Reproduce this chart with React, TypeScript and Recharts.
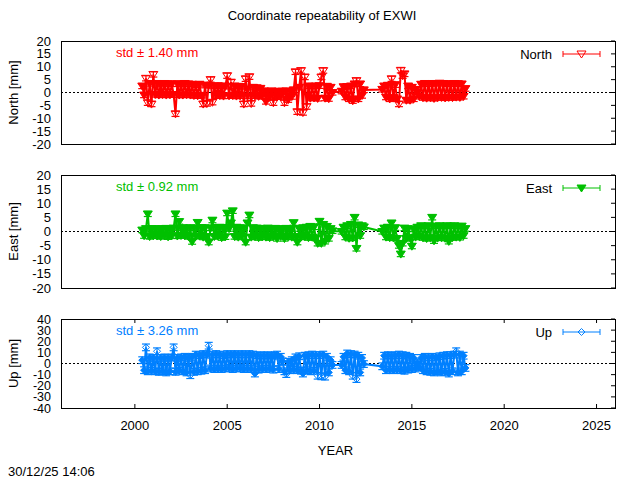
import React from 'react';
import { ComposedChart, Line, XAxis, YAxis, ErrorBar, ReferenceLine } from 'recharts';

// Epochs (decimal years) of the solutions
const epochs = [
  2000.4, 2000.5, 2000.6, 2000.7, 2000.8, 2000.9,
  2001.0, 2001.1, 2001.2, 2001.3, 2001.4, 2001.5, 2001.6, 2001.7, 2001.8, 2001.9,
  2002.0, 2002.1, 2002.2, 2002.3, 2002.4, 2002.5, 2002.6, 2002.7, 2002.8, 2002.9,
  2003.0, 2003.1, 2003.2, 2003.3, 2003.4, 2003.5, 2003.6, 2003.7, 2003.8, 2003.9,
  2004.0, 2004.1, 2004.2, 2004.3, 2004.4, 2004.5, 2004.6, 2004.7, 2004.8, 2004.9,
  2005.0, 2005.1, 2005.2, 2005.3, 2005.4, 2005.5, 2005.6, 2005.7, 2005.8, 2005.9,
  2006.0, 2006.1, 2006.2, 2006.3, 2006.4, 2006.5, 2006.6, 2006.7, 2006.8, 2006.9,
  2007.0, 2007.1, 2007.2, 2007.3, 2007.4, 2007.5, 2007.6, 2007.7, 2007.8, 2007.9,
  2008.0, 2008.1, 2008.2, 2008.3, 2008.4, 2008.5, 2008.6, 2008.7, 2008.8, 2008.9,
  2009.0, 2009.1, 2009.2, 2009.3, 2009.4, 2009.5, 2009.6, 2009.7, 2009.8, 2009.9,
  2010.0, 2010.1, 2010.2, 2010.3, 2010.4, 2010.5, 2010.6, 2010.7,
  2011.2, 2011.3, 2011.4, 2011.5, 2011.6, 2011.7, 2011.8, 2011.9,
  2012.0, 2012.1, 2012.2, 2012.3, 2012.4,
  2013.4, 2013.5, 2013.6, 2013.7, 2013.8, 2013.9,
  2014.0, 2014.1, 2014.2, 2014.3, 2014.4, 2014.5, 2014.6, 2014.7, 2014.8, 2014.9,
  2015.0, 2015.1, 2015.2, 2015.3, 2015.4, 2015.5, 2015.6, 2015.7, 2015.8, 2015.9,
  2016.0, 2016.1, 2016.2, 2016.3, 2016.4, 2016.5, 2016.6, 2016.7, 2016.8, 2016.9,
  2017.0, 2017.1, 2017.2, 2017.3, 2017.4, 2017.5, 2017.6, 2017.7, 2017.8, 2017.9,
];

// North residuals [mm]
const northMm = [
  2.5, -1.0, 5.5, -4.0, 3.5, -4.5,
  7.0, -0.8, 3.5, -1.0, 3.2, -0.8, 3.5, -1.0, 3.4, -0.9,
  3.3, -0.8, -8.3, 3.4, -1.0, 3.2, -1.0, 3.5, -0.9, 3.3,
  -1.0, 3.2, -1.2, 3.0, -1.3, 3.2, -1.1, -4.5, 2.8, -4.3,
  2.8, 5.0, -3.8, 2.5, -1.3, 2.6, -1.2, 2.5, -1.4, 2.4,
  6.5, -1.3, 4.0, -1.2, 2.5, -1.4, 2.4, -1.3, 2.3, -4.5,
  5.3, -1.4, 6.1, -4.3, 2.0, -1.3, 1.8, -1.5, 1.6, -1.4,
  0.6, -3.5, 0.4, -1.8, 0.6, -4.0, 0.4, -1.7, 0.5, -1.5,
  0.5, -4.0, 0.6, -2.8, 0.4, -1.6, 1.0, 8.0, -7.5, 2.0,
  8.5, -7.8, 6.0, -5.5, 2.5, -2.2, 2.4, -2.1, 2.5, -2.3,
  2.6, 6.0, 8.5, -2.2, 2.4, -2.4, 2.0, 0.0,
  0.5, 2.2, -1.8, 2.3, -2.5, 2.5, -3.2, 3.3, 4.6, -2.5, 3.3, -1.2, 1.0,
  1.2, 2.5, -1.8, 2.8, -2.5, 5.3,
  -2.0, 3.0, -2.5, -4.5, 8.6, 6.5, 7.2, -3.0, 2.5, -3.0,
  2.0, -2.5, 1.2, 0.2, -1.5, 3.2, -2.0, 3.5, -2.2, 3.3,
  -2.0, 3.5, -2.3, 3.5, -2.0, 3.6, -1.9, 3.5, -2.1, 3.4,
  -1.9, 3.3, -2.0, 3.5, -1.8, 3.4, -1.9, 3.3, -1.5, 1.5,
];

// East residuals [mm]
const eastMm = [
  0.5, -1.5, 1.0, 6.2, -1.8, 1.0,
  -1.5, 1.0, -1.6, 0.9, -1.8, 1.0, -1.5, 1.1, -1.9, 1.0,
  -1.5, 1.2, 6.2, -1.6, 3.5, -1.4, 1.3, -1.5, 1.2, -1.8,
  1.3, -3.6, 1.2, -1.7, 3.2, -1.6, 1.4, -2.0, 1.3, -1.8,
  -3.8, 1.2, 4.0, -1.8, 1.4, -1.6, 1.5, -2.2, 1.4, -1.9,
  6.5, 1.0, 3.0, 7.3, -1.8, 1.5, -2.0, 1.3, -1.7, 1.2,
  -3.8, 3.0, 5.8, -2.0, 1.3, -1.8, 1.2, -2.2, 1.1, -1.9,
  1.0, -2.0, 1.2, -2.2, 1.0, -1.8, 1.1, -2.5, 0.8, -1.7,
  1.0, -2.5, 1.1, -1.9, 0.9, -2.0, 3.1, -1.8, -3.8, 1.0,
  -2.0, 1.3, -1.8, 1.5, -2.2, 1.8, -2.0, 1.6, -2.3, -4.2,
  3.6, -4.2, 2.5, -3.5, 1.8, -2.5, 1.0, 0.2,
  0.0, 1.5, -2.0, 2.0, -2.4, 2.5, -2.3, 5.0, -6.0, 2.3, -1.5, 2.0, 1.6,
  0.0, 1.2, -2.0, 1.5, -2.2, 3.0,
  -2.3, 1.3, -2.5, -5.0, -8.0, -4.2, 1.2, -2.5, 1.0, -2.2,
  -5.2, 0.8, -2.0, 1.5, -1.8, 2.0, -2.2, 1.8, -2.5, 2.0,
  -2.2, 5.0, -3.3, 1.9, -2.3, 2.0, -2.2, 1.8, -2.4, 2.0,
  -3.5, 1.9, -2.2, 2.0, -2.0, 1.8, -2.1, 1.9, -1.5, 1.0,
];

// Up residuals [mm]
const upMm = [
  3.0, -6.0, 14.5, -7.0, 5.5, -6.5,
  5.0, -7.0, 11.0, -7.5, 5.0, -7.0, 5.5, -8.0, 5.0, -7.0,
  5.5, 14.5, -7.5, 5.0, -6.5, 5.5, -7.0, 6.0, -8.0, 5.0,
  -10.5, 6.0, -7.5, 8.0, -7.0, 7.5, -6.5, 8.5, -6.0, 8.0,
  16.0, -4.5, 8.0, -5.0, 8.5, -4.5, 8.0, -5.0, 7.5, -4.5,
  8.5, -4.0, 8.0, -5.0, 8.5, -4.5, 8.0, -4.0, 8.5, -5.0,
  8.0, -4.5, 8.5, -5.0, 8.0, -9.0, 7.5, -5.5, 7.0, -5.0,
  7.5, -5.0, 7.0, -4.5, 7.5, -5.5, 7.0, 8.0, -5.0, 6.0,
  2.0, -7.0, -9.5, 1.5, -6.0, 3.0, -5.5, 5.5, -6.0, 6.5,
  -6.5, -9.0, 7.0, -6.0, 7.5, -7.0, 8.0, -6.5, 7.5, -11.0,
  7.5, -11.5, 8.0, -11.8, 6.0, -8.0, 3.0, -1.3,
  -1.3, 6.0, -6.0, 9.0, -7.0, 8.5, -11.0, 8.0, -14.0, 7.0, -8.0, 5.0, -0.5,
  -2.5, 7.0, -6.0, 7.5, -5.5, 7.0,
  -6.0, 7.5, -5.5, 8.0, -6.0, 7.5, -6.5, 7.0, -5.5, 6.0,
  -5.0, 5.0, -4.5, 1.0, -3.5, 5.0, -6.0, 6.0, -7.0, 5.5,
  -7.5, 6.0, -8.0, 5.5, -7.0, 6.5, -8.0, 7.0, -7.5, 7.5,
  -9.0, 7.5, -7.0, 8.0, 11.0, -8.0, 8.0, -7.0, 7.0, -4.0,
];

// Formal errors [mm]
const sigmas = { north: 1.0, east: 0.9, up: 3.0 };
const stdLabels = { north: 'std ± 1.40 mm', east: 'std ± 0.92 mm', up: 'std ± 3.26 mm' };
const seriesNames = { north: 'North', east: 'East', up: 'Up' };
const axisTitles = { north: 'North [mm]', east: 'East [mm]', up: 'Up [mm]' };
const yearTicks = [2000, 2005, 2010, 2015, 2020, 2025];
const yearDomain = [1996, 2026];
const neTicks = [-20, -15, -10, -5, 0, 5, 10, 15, 20];
const upTicks = [-40, -30, -20, -10, 0, 10, 20, 30, 40];
const title = 'Coordinate repeatability of EXWI';
const xTitle = 'YEAR';
const stamp = '30/12/25 14:06';

const FONT = '"Liberation Sans", Arial, Helvetica, sans-serif';
const W = 640;
const H = 480;
const PLOT_L = 61;
const PLOT_R = 615;

type MarkerKind = 'triOpen' | 'triFill' | 'diamond';

// Markers inside the dense cloud are drawn solid (they overlap thousands of daily
// solutions in the original); isolated outliers keep their open outline.
const drawMarker = (kind: MarkerKind, cx: number, cy: number, color: string, solid: boolean, key?: any) => {
  if (kind === 'diamond') {
    return (
      <path key={key} d={`M${cx},${cy - 3.5}L${cx + 3.5},${cy}L${cx},${cy + 3.5}L${cx - 3.5},${cy}Z`}
        fill={solid ? color : 'none'} stroke={color} strokeWidth={1} />
    );
  }
  const filled = kind === 'triFill' || solid;
  return (
    <path key={key} d={`M${cx - 4.5},${cy - 3}L${cx + 4.5},${cy - 3}L${cx},${cy + 4}Z`}
      fill={filled ? color : 'none'} stroke={color} strokeWidth={1} />
  );
};

type PanelDef = {
  id: 'north' | 'east' | 'up';
  values: number[];
  color: string;
  marker: MarkerKind;
  ticks: number[];
  top: number;
  bottom: number;
  showX: boolean;
  cloudLimit: number;
};

const panels: PanelDef[] = [
  { id: 'north', values: northMm, color: '#ff0000', marker: 'triOpen', ticks: neTicks, top: 41, bottom: 144, showX: false, cloudLimit: 3.7 },
  { id: 'east', values: eastMm, color: '#00c000', marker: 'triFill', ticks: neTicks, top: 175, bottom: 288, showX: false, cloudLimit: 99 },
  { id: 'up', values: upMm, color: '#0080ff', marker: 'diamond', ticks: upTicks, top: 319, bottom: 408, showX: true, cloudLimit: 9.2 },
];

// Background layer: axes, ticks, zero line
const PanelAxes = ({ p }: { p: PanelDef }) => {
  const data = epochs.map((t, i) => ({ t, v: p.values[i] }));
  const xAxisH = 30;
  const marginBottom = p.showX ? H - p.bottom - xAxisH : H - p.bottom;
  const fs = p.id === 'up' ? 12.5 : 13;

  const yTick = (props: any) => {
    const { y, payload } = props;
    return (
      <g>
        <text x={51} y={y + 4.5} textAnchor="end" fontSize={fs} fontFamily={FONT} fill="#000">{payload.value}</text>
        <line x1={PLOT_R - 4} x2={PLOT_R} y1={y} y2={y} stroke="#000" strokeWidth={1} />
      </g>
    );
  };

  const xTick = (props: any) => {
    const { x, payload } = props;
    return (
      <g>
        <line x1={x} x2={x} y1={p.bottom - 4} y2={p.bottom} stroke="#000" strokeWidth={1} />
        <line x1={x} x2={x} y1={p.top} y2={p.top + 4} stroke="#000" strokeWidth={1} />
        <text x={x} y={p.bottom + 22} textAnchor="middle" fontSize={13} fontFamily={FONT} fill="#000">{payload.value}</text>
      </g>
    );
  };

  return (
    <div style={{ position: 'absolute', left: 0, top: 0, width: W, height: H }}>
      <ComposedChart width={W} height={H} data={data}
        margin={{ top: p.top, right: W - PLOT_R, bottom: marginBottom, left: 0 }}>
        <XAxis type="number" dataKey="t" domain={yearDomain} ticks={yearTicks} interval={0}
          allowDataOverflow hide={!p.showX} height={xAxisH} axisLine={false} tickLine={false} tick={xTick} />
        <YAxis type="number" domain={[p.ticks[0], p.ticks[p.ticks.length - 1]]} ticks={p.ticks} interval={0}
          allowDataOverflow width={PLOT_L} axisLine={false} tickLine={false} tick={yTick} />
        <ReferenceLine y={0} stroke="#000" strokeWidth={1} strokeDasharray="2 2" />
      </ComposedChart>
    </div>
  );
};

// Foreground layer: the series with markers and error bars
const PanelSeries = ({ p }: { p: PanelDef }) => {
  const data = epochs.map((t, i) => ({ t, v: p.values[i], err: sigmas[p.id] }));
  return (
    <div style={{ position: 'absolute', left: 0, top: 0, width: W, height: H }}>
      <ComposedChart width={W} height={H} data={data}
        margin={{ top: p.top, right: W - PLOT_R, bottom: H - p.bottom, left: PLOT_L }}>
        <XAxis type="number" dataKey="t" domain={yearDomain} allowDataOverflow hide />
        <YAxis type="number" domain={[p.ticks[0], p.ticks[p.ticks.length - 1]]} allowDataOverflow hide />
        <Line type="linear" dataKey="v" stroke={p.color} strokeWidth={2} isAnimationActive={false}
          activeDot={false}
          dot={(d: any) => drawMarker(p.marker, d.cx, d.cy, p.color,
            Math.abs(d.payload?.v ?? 0) <= p.cloudLimit, `m-${d.index}`)}>
          <ErrorBar dataKey="err" direction="y" width={4} stroke={p.color} strokeWidth={1.2} />
        </Line>
      </ComposedChart>
    </div>
  );
};

const Overlay = () => (
  <svg width={W} height={H} style={{ position: 'absolute', left: 0, top: 0, pointerEvents: 'none' }}
    fontFamily={FONT} fontSize={13}>
    <text x={322} y={19.5} textAnchor="middle" fill="#000">{title}</text>
    {panels.map((p) => {
      const mid = (p.top + p.bottom) / 2;
      const legY = p.top + 13;
      return (
        <g key={p.id}>
          <rect x={PLOT_L} y={p.top} width={PLOT_R - PLOT_L} height={p.bottom - p.top}
            fill="none" stroke="#000" strokeWidth={1} shapeRendering="crispEdges" />
          <text transform={`rotate(-90 13 ${mid})`} x={13} y={mid} dy={4.5} textAnchor="middle" fill="#000">
            {axisTitles[p.id]}
          </text>
          <text x={116} y={p.top + 15.5} fill={p.color}>{stdLabels[p.id]}</text>
          <text x={552} y={legY + 4.5} textAnchor="end" fill="#000">{seriesNames[p.id]}</text>
          <line x1={563} x2={600} y1={legY} y2={legY} stroke={p.color} strokeWidth={1} />
          <line x1={563} x2={563} y1={legY - 3} y2={legY + 3} stroke={p.color} strokeWidth={1} />
          <line x1={600} x2={600} y1={legY - 3} y2={legY + 3} stroke={p.color} strokeWidth={1} />
          {drawMarker(p.marker, 581.5, legY, p.color, false)}
        </g>
      );
    })}
    <text x={335.5} y={454.5} textAnchor="middle" fill="#000">{xTitle}</text>
    <text x={8} y={476} fill="#000">{stamp}</text>
  </svg>
);

export default function App() {
  return (
    <div style={{ position: 'absolute', left: 0, top: 0, width: W, height: H, background: '#fff' }}>
      {panels.map((p) => (
        <PanelAxes key={`a-${p.id}`} p={p} />
      ))}
      {panels.map((p) => (
        <PanelSeries key={`s-${p.id}`} p={p} />
      ))}
      <Overlay />
    </div>
  );
}
